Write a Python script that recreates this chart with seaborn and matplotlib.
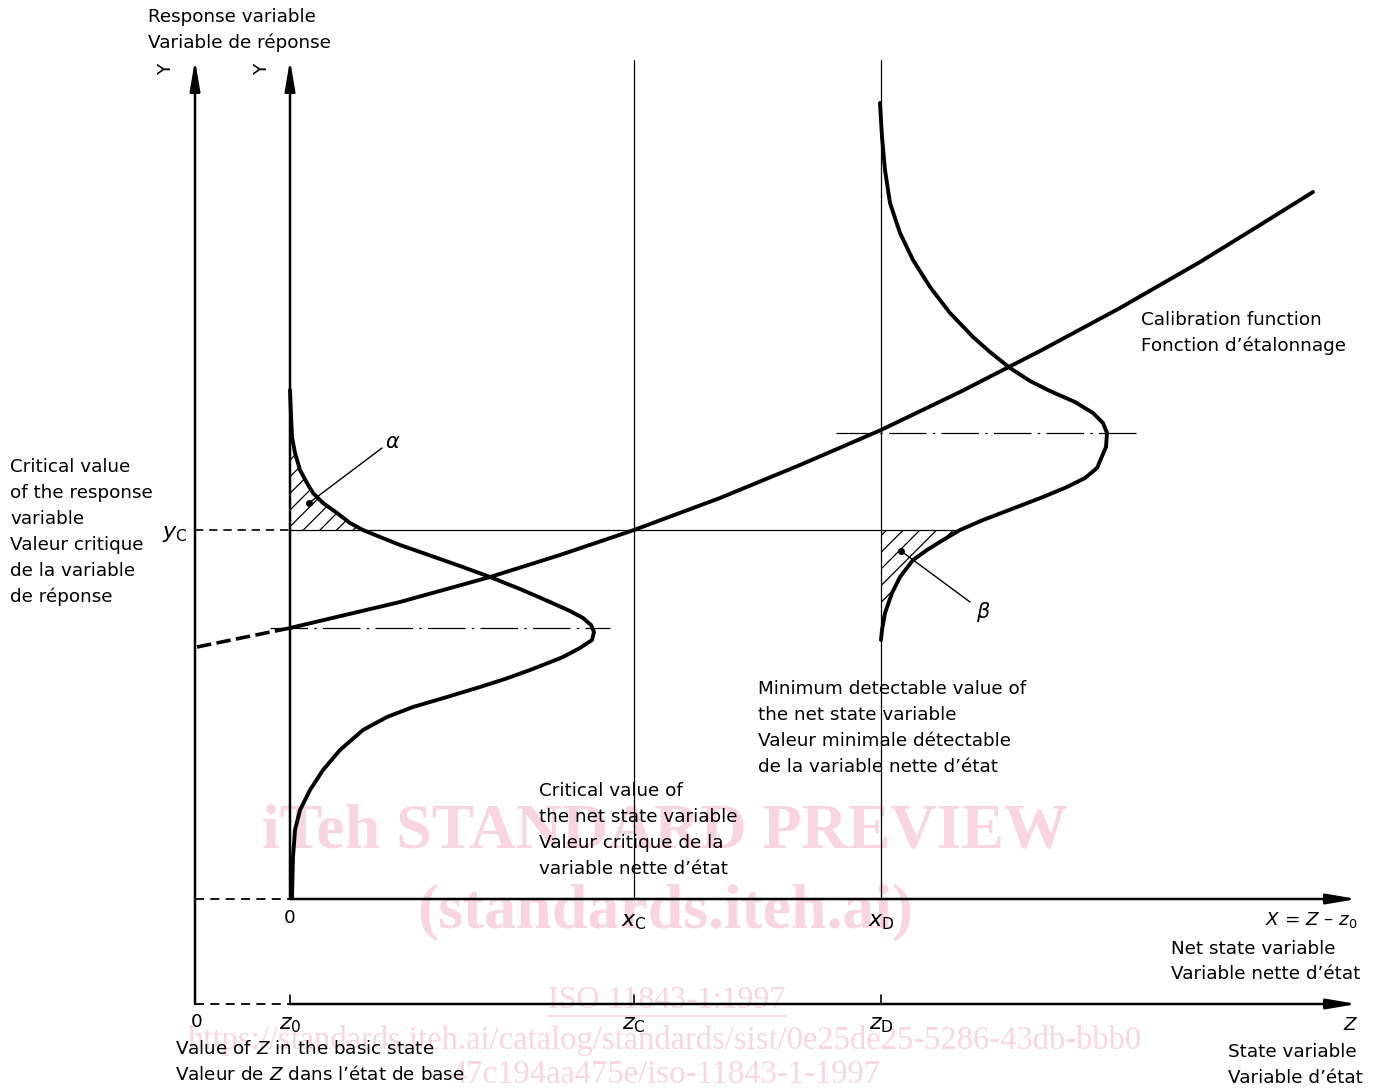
import numpy as np
import matplotlib
matplotlib.use("Agg")
import matplotlib.pyplot as plt
import seaborn as sns
import pandas as pd

# ---------------- data (pixel-like units, y downwards) ----------------
# calibration function
cal_x = [197, 290, 400, 490, 560, 634, 720, 800, 881, 960, 1040, 1120, 1200, 1260, 1313]
cal_y = [647, 628, 602, 577, 555, 530, 498, 465, 430, 392, 351, 308, 262, 225, 192]

# distribution of the response at z0 (drawn sideways on the x=0 axis)
g0_x = [290, 291, 292, 295, 300, 307, 313, 323, 337, 350, 363, 380, 400, 423, 460, 490,
        520, 550, 570, 583, 591, 594, 592, 580, 563, 548, 530, 505, 480, 447, 413, 387,
        363, 340, 323, 310, 300, 295, 293, 292]
g0_y = [390, 415, 437, 453, 470, 483, 493, 503, 513, 523, 530, 537, 545, 553, 566, 577,
        589, 602, 611, 618, 625, 632, 640, 648, 657, 663, 670, 679, 687, 697, 707, 717,
        730, 750, 770, 790, 810, 830, 857, 897]

# distribution of the response at zD
g1_x = [880, 882, 885, 890, 900, 913, 930, 950, 973, 990, 1010, 1030, 1050, 1075, 1093,
        1103, 1107, 1106, 1097, 1085, 1067, 1043, 1017, 983, 960, 943, 927, 913, 900,
        892, 885, 882, 881]
g1_y = [103, 137, 170, 203, 233, 260, 287, 313, 337, 352, 368, 381, 391, 402, 413,
        423, 433, 447, 468, 478, 487, 497, 507, 520, 530, 540, 550, 560, 577,
        593, 613, 630, 640]

# axes positions
x_left, x_zero = 195, 290
x_c, x_d = 634, 881
y_top, y_xaxis, y_zaxis = 60, 899, 1004
x_end = 1357
y_c = 530
y_mean0, y_meanD = 628, 433

# ---------------- figure ----------------
sns.set_theme(style="white")
plt.rcParams["font.family"] = ["DejaVu Sans"]
plt.rcParams["text.color"] = "black"
plt.rcParams["hatch.linewidth"] = 0.9

fig = plt.figure(figsize=(13.8, 10.89), dpi=100)
ax = fig.add_axes([0, 0, 1, 1])
ax.set_xlim(0, 1380)
ax.set_ylim(1089, 0)
ax.axis("off")

k = "black"
pink = "#f9d6df"

# watermark
ax.text(665, 833, "iTeh STANDARD PREVIEW", fontsize=46, family="Liberation Serif",
        weight="bold", color=pink, ha="center", va="center", zorder=0)
ax.text(665, 912, "(standards.iteh.ai)", fontsize=46, family="Liberation Serif",
        weight="bold", color=pink, ha="center", va="center", zorder=0)
ax.text(667, 1001, "ISO 11843-1:1997", fontsize=23, family="Liberation Serif",
        color=pink, ha="center", va="center", zorder=0)
ax.plot([548, 786], [1016, 1016], color=pink, lw=1.2, zorder=0)
ax.text(665, 1040, "https://standards.iteh.ai/catalog/standards/sist/0e25de25-5286-43db-bbb0",
        fontsize=23.5, family="Liberation Serif", color=pink, ha="center", va="center", zorder=0)
ax.text(665, 1075, "47c194aa475e/iso-11843-1-1997",
        fontsize=23.5, family="Liberation Serif", color=pink, ha="center", va="center", zorder=0)

# axes with arrows
arrow = dict(arrowstyle="-|>,head_length=1.3,head_width=0.22", color=k, lw=1.8,
             shrinkA=0, shrinkB=0, mutation_scale=14)
ax.annotate("", xy=(x_left, y_top), xytext=(x_left, y_zaxis), arrowprops=arrow)
ax.annotate("", xy=(x_zero, y_top), xytext=(x_zero, y_xaxis), arrowprops=arrow)
ax.annotate("", xy=(x_end, y_xaxis), xytext=(x_zero, y_xaxis), arrowprops=arrow)
ax.annotate("", xy=(x_end, y_zaxis), xytext=(x_zero, y_zaxis), arrowprops=arrow)
ax.plot([x_left, x_zero], [y_xaxis, y_xaxis], color=k, lw=1.3, ls=(0, (5, 3.5)))
ax.plot([x_left, x_zero], [y_zaxis, y_zaxis], color=k, lw=1.3, ls=(0, (5, 3.5)))

# ticks on Z axis
for xt in [x_zero, x_c, x_d]:
    ax.plot([xt, xt], [y_zaxis - 9, y_zaxis], color=k, lw=1.2)

# thin verticals at xC, xD
ax.plot([x_c, x_c], [y_top, y_xaxis], color=k, lw=0.9)
ax.plot([x_d, x_d], [y_top, y_xaxis], color=k, lw=0.9)

# critical response level
ax.plot([x_left, x_zero], [y_c, y_c], color=k, lw=1.2, ls=(0, (5, 3.5)))
ax.plot([x_zero, 960], [y_c, y_c], color=k, lw=0.9)

# mean lines (dash-dot)
ax.plot([270, 610], [y_mean0, y_mean0], color=k, lw=0.9, ls=(0, (30, 5, 2, 5)))
ax.plot([836, 1136], [y_meanD, y_meanD], color=k, lw=0.9, ls=(0, (30, 5, 2, 5)))

# calibration function
cal = pd.DataFrame({"x": cal_x, "y": cal_y})
sns.lineplot(data=cal.iloc[:2], x="x", y="y", sort=False, estimator=None, color=k,
             lw=2.6, ls=(0, (4, 1.5)), ax=ax)
sns.lineplot(data=cal.iloc[1:], x="x", y="y", sort=False, estimator=None, color=k,
             lw=2.8, ax=ax)

# distributions
sns.lineplot(x=g0_x, y=g0_y, sort=False, estimator=None, color=k, lw=2.8, ax=ax)
sns.lineplot(x=g1_x, y=g1_y, sort=False, estimator=None, color=k, lw=2.8, ax=ax)

# hatched tail areas alpha and beta
a_x = [x for x, y in zip(g0_x, g0_y) if 437 <= y <= y_c]
a_y = [y for y in g0_y if 437 <= y <= y_c]
ax.fill(a_x + [x_zero, x_zero], a_y + [y_c, 437], facecolor="none", edgecolor=k,
        hatch="//", lw=0)
b_x = [x for x, y in zip(g1_x, g1_y) if y >= y_c]
b_y = [y for y in g1_y if y >= y_c]
ax.fill(b_x + [x_d], b_y + [y_c], facecolor="none", edgecolor=k, hatch="//", lw=0)

# leaders
ax.plot([309, 382], [503, 448], color=k, lw=1)
ax.plot([309], [503], "o", color=k, ms=4)
ax.plot([901, 970], [551, 602], color=k, lw=1)
ax.plot([901], [551], "o", color=k, ms=4)
ax.text(393, 442, r"$\alpha$", fontsize=15, ha="center", va="center")
ax.text(983, 612, r"$\beta$", fontsize=15, ha="center", va="center")

# labels
fs = 13.2
ax.text(148, 17, "Response variable", fontsize=fs, va="center")
ax.text(148, 43, "Variable de réponse", fontsize=fs, va="center")
ax.text(166, 68, "Y", fontsize=fs, rotation=90, ha="center", va="center")
ax.text(262, 68, "Y", fontsize=fs, rotation=90, ha="center", va="center")

left_lines = ["Critical value", "of the response", "variable", "Valeur critique",
              "de la variable", "de réponse"]
for i, s in enumerate(left_lines):
    ax.text(10, 467 + 26 * i, s, fontsize=fs, va="center")
ax.text(175, 534, r"$y_{\mathrm{C}}$", fontsize=16, ha="center", va="center")

ax.text(1141, 320, "Calibration function", fontsize=fs, va="center")
ax.text(1141, 346, "Fonction d’étalonnage", fontsize=fs, va="center")

for i, s in enumerate(["Minimum detectable value of", "the net state variable",
                       "Valeur minimale détectable", "de la variable nette d’état"]):
    ax.text(758, 689 + 26 * i, s, fontsize=fs, va="center")
for i, s in enumerate(["Critical value of", "the net state variable",
                       "Valeur critique de la", "variable nette d’état"]):
    ax.text(539, 791 + 26 * i, s, fontsize=fs, va="center")

ax.text(1358, 920, r"$X$ = $Z$ – $z_{0}$", fontsize=fs, ha="right", va="center")
ax.text(1171, 949, "Net state variable", fontsize=fs, va="center")
ax.text(1171, 974, "Variable nette d’état", fontsize=fs, va="center")
ax.text(1358, 1025, r"$Z$", fontsize=fs, ha="right", va="center")
ax.text(1228, 1052, "State variable", fontsize=fs, va="center")
ax.text(1228, 1078, "Variable d’état", fontsize=fs, va="center")
ax.text(175, 1049, r"Value of $Z$ in the basic state", fontsize=fs, va="center")
ax.text(175, 1074, r"Valeur de $Z$ dans l’état de base", fontsize=fs, va="center")

# tick labels
ax.text(x_zero, 918, "0", fontsize=fs, ha="center", va="center")
ax.text(x_c, 922, r"$x_{\mathrm{C}}$", fontsize=16, ha="center", va="center")
ax.text(x_d, 922, r"$x_{\mathrm{D}}$", fontsize=16, ha="center", va="center")
ax.text(197, 1022, "0", fontsize=fs, ha="center", va="center")
ax.text(x_zero, 1025, r"$z_{0}$", fontsize=16, ha="center", va="center")
ax.text(x_c, 1025, r"$z_{\mathrm{C}}$", fontsize=16, ha="center", va="center")
ax.text(x_d, 1025, r"$z_{\mathrm{D}}$", fontsize=16, ha="center", va="center")

fig.savefig("out.png", dpi=100, facecolor="white")
